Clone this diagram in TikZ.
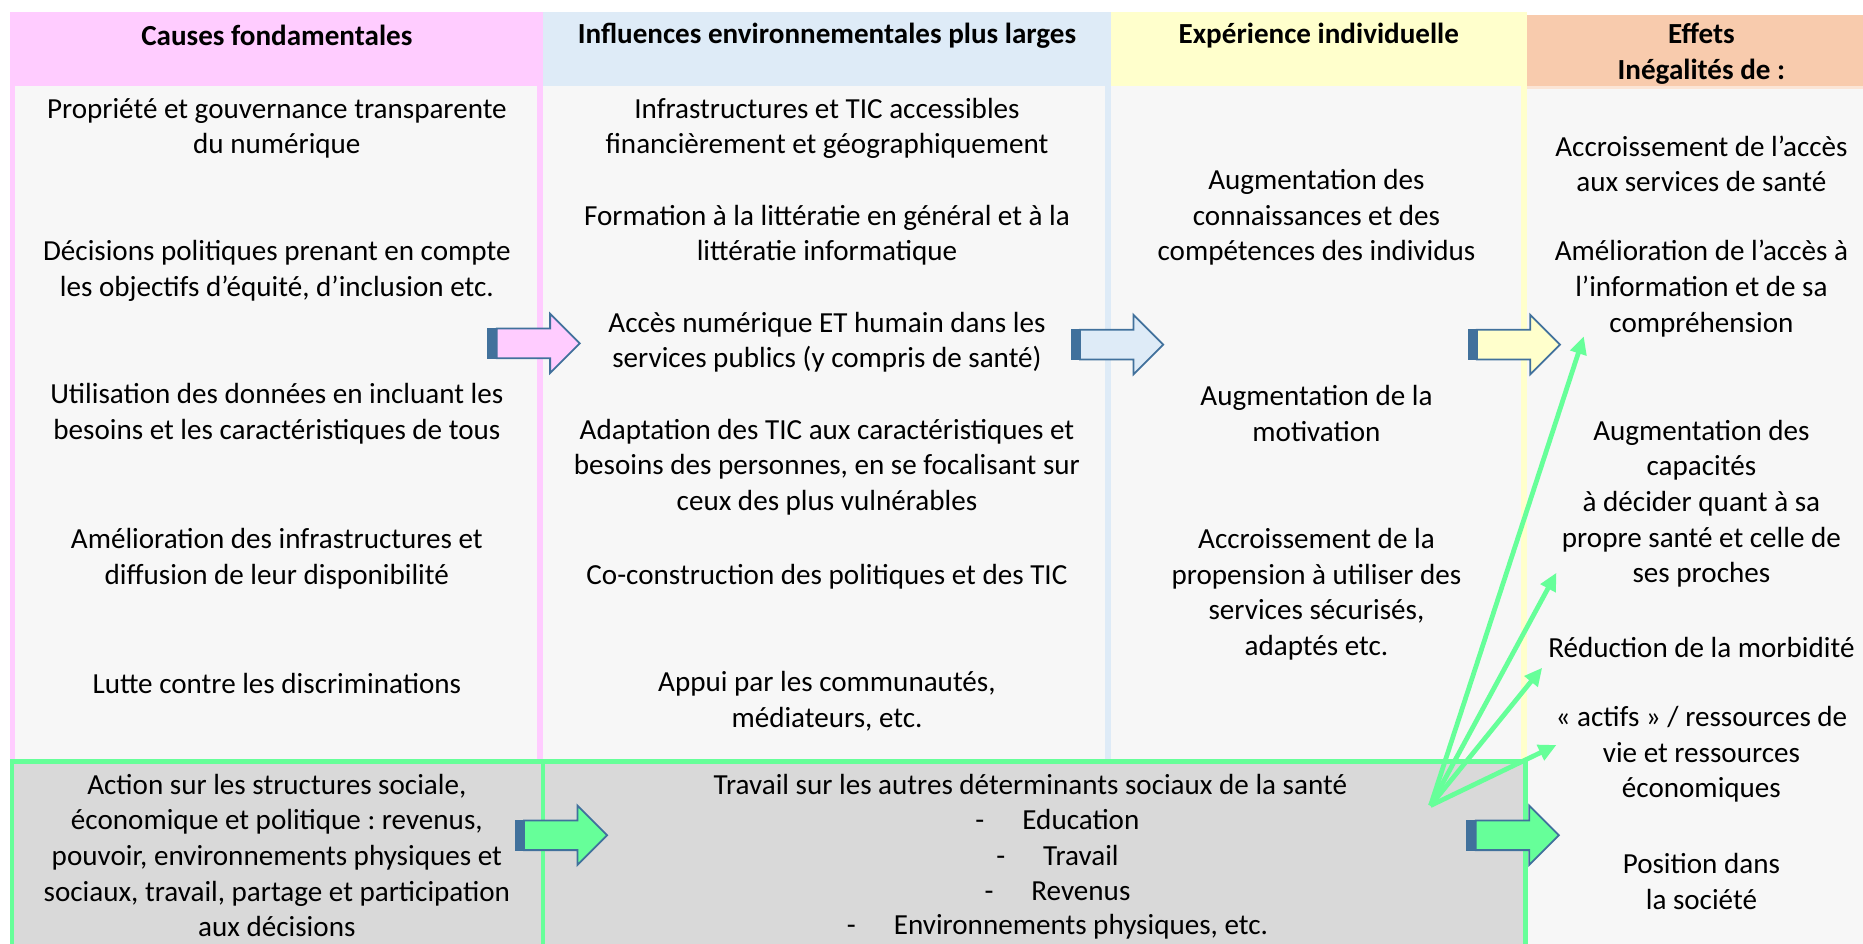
\documentclass[tikz,border=0pt]{standalone}
\usepackage{fontspec}
\setmainfont{Carlito}
\usepackage{tikz}
\usetikzlibrary{arrows.meta}
\usetikzlibrary{positioning}
\definecolor{pinkcol}{HTML}{FFCCFF}
\definecolor{bluecol}{HTML}{DEEBF7}
\definecolor{yellowcol}{HTML}{FFFFCC}
\definecolor{orangecol}{HTML}{F8CBAD}
\definecolor{orangelight}{HTML}{FBE5D6}
\definecolor{bodygray}{HTML}{F7F7F7}
\definecolor{boxgray}{HTML}{D9D9D9}
\definecolor{greenline}{HTML}{66FF99}
\definecolor{arrowblue}{HTML}{41719C}
\newcommand{\bodyfont}{\fontsize{9.8pt}{12pt}\selectfont}
\frenchspacing
\tikzstyle{cell}=[align=center, inner sep=0pt, font=\bodyfont]
\tikzstyle{head}=[cell, font=\bodyfont\bfseries]
\tikzstyle{greenarrow}=[draw=greenline, line width=1.6pt, -{Triangle[length=6pt,width=5.5pt]}]
\tikzstyle{arrowline}=[draw=arrowblue, line width=0.6pt, line join=miter]

\begin{document}
\begin{tikzpicture}[x=0.4pt, y=-0.4pt]

  \clip (0,0) rectangle (1568,794);
  \fill[white] (0,0) rectangle (1568,794);

  % columns
  \foreach \xa/\xb/\col in {8/457/pinkcol, 457/935/bluecol, 935/1285/yellowcol}
     \fill[\col] (\xa,10) rectangle (\xb,800);
  \fill[orangecol] (1285,12.5) rectangle (1568,72);
  \fill[orangelight] (1285,72) rectangle (1568,75);
  \fill[bodygray] (13,72) rectangle (452,800);
  \fill[bodygray] (457,72) rectangle (930,800);
  \fill[bodygray] (935,72) rectangle (1280,800);
  \fill[bodygray] (1285,75) rectangle (1568,800);

  % bottom box
  \draw[greenline, line width=1.6pt, fill=boxgray] (10,641) rectangle (1284,820);
  \draw[greenline, line width=1.6pt] (457,641) -- (457,820);

  % block arrows
  \foreach \x/\y/\col in {411/289/pinkcol, 902/290/bluecol, 1236/290/yellowcol, 434/703/greenline, 1235/703/greenline} {
     \draw[arrowline, fill=\col] (\x+7,\y-12.5) -- (\x+52,\y-12.5) -- (\x+52,\y-25) -- (\x+77,\y) -- (\x+52,\y+25) -- (\x+52,\y+12.5) -- (\x+7,\y+12.5) -- cycle;
     \draw[arrowline, fill=arrowblue] (\x,\y-12.5) rectangle (\x+3.5,\y+12.5);
     \draw[arrowline, fill=\col] (\x+4.5,\y-12.5) rectangle (\x+6,\y+12.5);
  }

  % headers
  \node[head] (hcauses) at (233,30) {Causes fondamentales};
  \node[head] (hinfl) at (696,30) {Influences environnementales plus larges};
  \node[head] (hexp) at (1110,30) {Expérience individuelle};
  \node[head] (heff) at (1432,45) {Effets\\Inégalités de :};

  \foreach \y/\x/\name/\label in {
      108/233/pa/{Propriété et gouvernance transparente\\du numérique},
      228/233/pb/{Décisions politiques prenant en compte\\les objectifs d’équité, d’inclusion etc.},
      348/233/pc/{Utilisation des données en incluant les\\besoins et les caractéristiques de tous},
      470/233/pd/{Amélioration des infrastructures et\\diffusion de leur disponibilité},
      575/233/pe/{Lutte contre les discriminations},
      108/696/ba/{Infrastructures et TIC accessibles\\financièrement et géographiquement},
      198/696/bb/{Formation à la littératie en général et à la\\littératie informatique},
      288/696/bc/{Accès numérique ET humain dans les\\services publics (y compris de santé)},
      393/696/bd/{Adaptation des TIC aux caractéristiques et\\besoins des personnes, en se focalisant sur\\ceux des plus vulnérables},
      485/696/be/{Co-construction des politiques et des TIC},
      590/696/bf/{Appui par les communautés,\\médiateurs, etc.},
      183/1108/ya/{Augmentation des\\connaissances et des\\compétences des individus},
      348/1108/yb/{Augmentation de la\\motivation},
      500/1108/yc/{Accroissement de la\\propension à utiliser des\\services sécurisés,\\adaptés etc.},
      138/1432/oa/{Accroissement de l’accès\\aux services de santé},
      243/1432/ob/{Amélioration de l’accès à\\l’information et de sa\\compréhension},
      424/1432/oc/{Augmentation des\\capacités\\à décider quant à sa\\propre santé et celle de\\ses proches},
      545/1432/od/{Réduction de la morbidité},
      742/1432/of/{Position dans\\la société},
      720/233/ga/{Action sur les structures sociale,\\économique et politique : revenus,\\pouvoir, environnements physiques et\\sociaux, travail, partage et participation\\aux décisions},
      660/870/gb/{Travail sur les autres déterminants sociaux de la santé} }
     \node[cell] (\name) at (\x,\y) {\label};
  \node[cell] (oe) at (1432,635) {«~actifs~» / ressources de\\vie et ressources\\économiques};

  \foreach \y/\item in {690/Education, 720/Travail, 750/Revenus, 780/{Environnements physiques, etc.}}
     \node[cell] (list\y) at (890,\y) {-\hspace{12.8pt}\item};

  % green links
  \coordinate (hub) at (1204,678);
  \coordinate (tob) at (1333,283);
  \coordinate (toc) at (1310,482);
  \coordinate (tod) at (1298,562);
  \coordinate (toe) at (1310,627);
  \foreach \dest in {tob, toc, tod, toe}
     \draw[greenarrow] (hub) -- (\dest);

\end{tikzpicture}
\end{document}
